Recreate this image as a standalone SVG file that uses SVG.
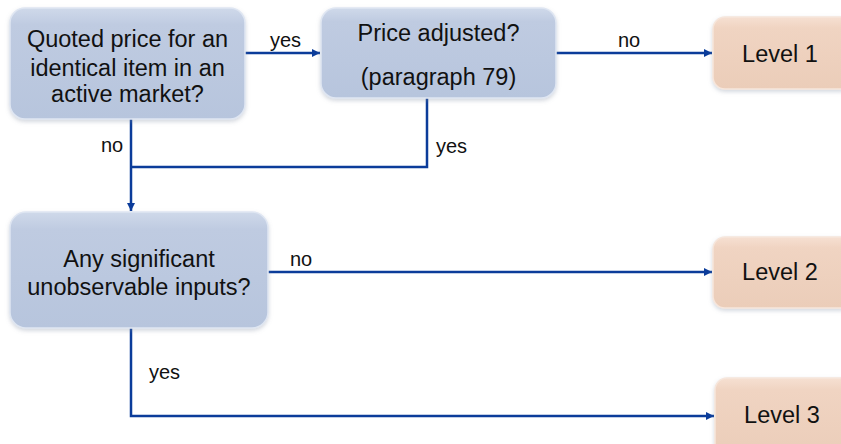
<svg xmlns="http://www.w3.org/2000/svg" width="841" height="444" viewBox="0 0 841 444">
<style>
.q{fill:url(#gb);stroke:#dfe6f2;stroke-width:1.5}
.l{fill:url(#go);stroke:#f6e6dc;stroke-width:1.5}
.t{font-family:"Liberation Sans",Arial,sans-serif;font-size:23.5px;fill:#111;text-anchor:middle}
.s{font-family:"Liberation Sans",Arial,sans-serif;font-size:20px;fill:#111}
.c{fill:none;stroke:#0b3c9a;stroke-width:2.5}
</style>
<defs>
<linearGradient id="gb" x1="0" y1="0" x2="0" y2="1">
<stop offset="0" stop-color="#cfd9ea"/>
<stop offset="0.15" stop-color="#bfcbe1"/>
<stop offset="1" stop-color="#b7c5dd"/>
</linearGradient>
<linearGradient id="go" x1="0" y1="0" x2="0" y2="1">
<stop offset="0" stop-color="#f6e0d2"/>
<stop offset="0.15" stop-color="#f0d4c2"/>
<stop offset="1" stop-color="#ebcdb9"/>
</linearGradient>
<filter id="sh" x="-10%" y="-10%" width="120%" height="130%">
<feDropShadow dx="0" dy="2" stdDeviation="2" flood-color="#7f8aa0" flood-opacity="0.35"/>
</filter>
<marker id="ar" viewBox="0 0 10 10" refX="10" refY="5" markerWidth="9" markerHeight="8" markerUnits="userSpaceOnUse" orient="auto">
<path d="M0,0 L10,5 L0,10 Z" fill="#0b3c9a"/>
</marker>
</defs>
<rect width="841" height="444" fill="#fff"/>
<g id="connectors">
<path class="c" d="M245,53 H320" marker-end="url(#ar)"/>
<path class="c" d="M556,53 H712" marker-end="url(#ar)"/>
<path class="c" d="M427,98 V167 H131"/>
<path class="c" d="M131,119 V211" marker-end="url(#ar)"/>
<path class="c" d="M268,272 H712" marker-end="url(#ar)"/>
<path class="c" d="M131,328 V416 H714" marker-end="url(#ar)"/>
<text class="s" x="270" y="47">yes</text>
<text class="s" x="618" y="47">no</text>
<text class="s" x="101" y="152">no</text>
<text class="s" x="436" y="153">yes</text>
<text class="s" x="290" y="266">no</text>
<text class="s" x="149" y="379">yes</text>
</g>
<g id="q1">
<rect class="q" x="10" y="8" width="235" height="111" rx="15" filter="url(#sh)"/>
<text class="t" x="127.5" y="47">Quoted price for an</text>
<text class="t" x="127.5" y="76">identical item in an</text>
<text class="t" x="127.5" y="102">active market?</text>
</g>
<g id="q2">
<rect class="q" x="321" y="8" width="235" height="90" rx="15" filter="url(#sh)"/>
<text class="t" x="438.5" y="41">Price adjusted?</text>
<text class="t" x="438.5" y="85">(paragraph 79)</text>
</g>
<g id="q3">
<rect class="q" x="10" y="212" width="258" height="116" rx="16" filter="url(#sh)"/>
<text class="t" x="139" y="267">Any significant</text>
<text class="t" x="139" y="295">unobservable inputs?</text>
</g>
<g id="level1">
<rect class="l" x="713" y="17" width="140" height="72" rx="12" filter="url(#sh)"/>
<text class="t" x="780" y="62">Level 1</text>
</g>
<g id="level2">
<rect class="l" x="713" y="237" width="140" height="71" rx="12" filter="url(#sh)"/>
<text class="t" x="780" y="280">Level 2</text>
</g>
<g id="level3">
<rect class="l" x="715" y="378" width="140" height="80" rx="12" filter="url(#sh)"/>
<text class="t" x="782" y="423">Level 3</text>
</g>
</svg>
